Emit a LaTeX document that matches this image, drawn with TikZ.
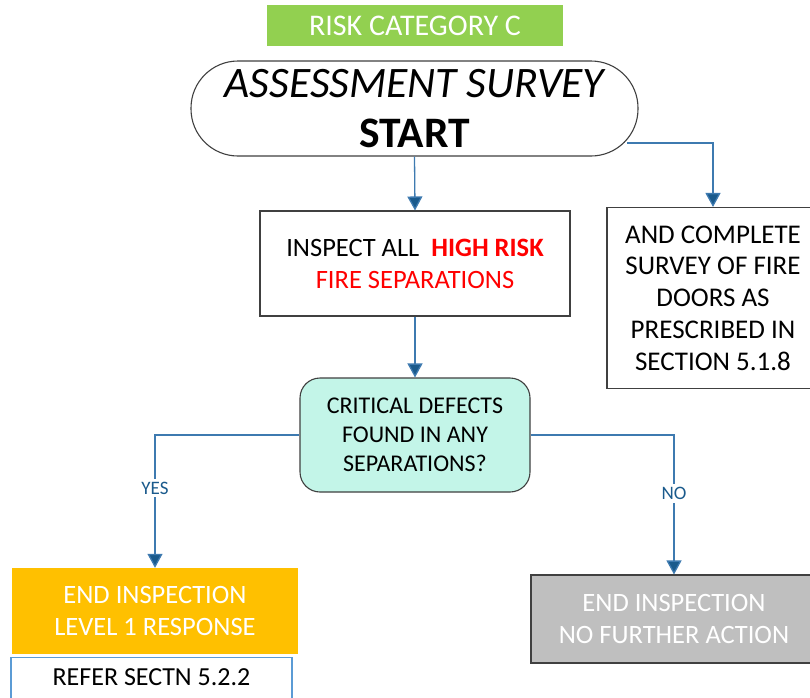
\documentclass[tikz,border=0pt]{standalone}
\usepackage{fontspec}
\setmainfont{Carlito}
\usepackage{tikz}
\usetikzlibrary{arrows.meta}
\definecolor{catgreen}{HTML}{92D050}
\definecolor{decaqua}{HTML}{C3F5E8}
\definecolor{lvlorange}{HTML}{FFC000}
\definecolor{endgrey}{HTML}{BFBFBF}
\definecolor{boxline}{HTML}{404040}
\definecolor{flowblue}{HTML}{3E7AB0}
\definecolor{tipblue}{HTML}{1A5A8C}
\definecolor{referblue}{HTML}{5B9BD5}
\newcommand{\fsz}[2]{\fontsize{#1}{#2}\selectfont}

\begin{document}
\begin{tikzpicture}[x=1pt, y=-1pt,
    box/.style={draw=boxline, line width=1.1pt, fill=white, inner sep=0pt, align=center},
    flow/.style={draw=flowblue, line width=1.3pt, -{Triangle[width=15pt, length=14pt, fill=tipblue]}},
    answer/.style={fill=white, text=tipblue, inner sep=3pt, font=\fsz{19}{20}}]
            \clip (0, 0) rectangle (810, 697);
            \fill[white] (0, 0) rectangle (810, 697);

            \node[fill=catgreen, text=white, minimum width=296pt, minimum height=41pt, inner sep=0pt, font=\fsz{30}{32}] (cat) at (415, 25.5) {RISK CATEGORY C};
            \node[box, rounded corners=47pt, minimum width=447pt, minimum height=95pt, font=\fsz{43.5}{50}] (start) at (414.5, 108.5) {\itshape ASSESSMENT SURVEY\\ \bfseries START};
            \node[box, minimum width=310pt, minimum height=105pt, font=\fsz{26.5}{32}] (inspect) at (415, 263.5) {INSPECT ALL\ \ \textcolor{red}{\bfseries HIGH RISK}\\ \textcolor{red}{FIRE SEPARATIONS}};
            \node[box, minimum width=212pt, minimum height=181pt, font=\fsz{27}{31.7}] (doors) at (713, 298) {AND COMPLETE\\ SURVEY OF FIRE\\ DOORS AS\\ PRESCRIBED IN\\ SECTION 5.1.8};
            \node[box, fill=decaqua, rounded corners=20pt, minimum width=230pt, minimum height=114pt, font=\fsz{24}{29}] (decide) at (415, 435) {CRITICAL DEFECTS\\ FOUND IN ANY\\ SEPARATIONS?};
            \node[fill=lvlorange, text=white, minimum width=286pt, minimum height=86pt, inner sep=0pt, align=center, font=\fsz{26.5}{32}] (lvl1) at (155, 611) {END INSPECTION\\ LEVEL 1 RESPONSE};
            \node[box, fill=endgrey, text=white, minimum width=286pt, minimum height=88pt, font=\fsz{26.5}{32}] (nofurther) at (674, 619) {END INSPECTION\\ NO FURTHER ACTION};
            \node[box, draw=referblue, anchor=north, minimum width=281pt, text height=28pt, text depth=32pt, font=\fsz{26}{32}] (refer) at (151.5, 657) {REFER SECTN 5.2.2};

            \coordinate (startexit) at (627, 143);
            \draw[flow] (start.south) -- (inspect.north);
            \draw[flow] (startexit) -| (doors.north);
            \draw[flow] (inspect.south) -- (decide.north);
            \draw[flow] (decide.west) -| node[answer, pos=0.70] {YES} (lvl1.north);
            \draw[flow] (decide.east) -| node[answer, pos=0.71] {NO} (nofurther.north);
        \end{tikzpicture}
\end{document}
